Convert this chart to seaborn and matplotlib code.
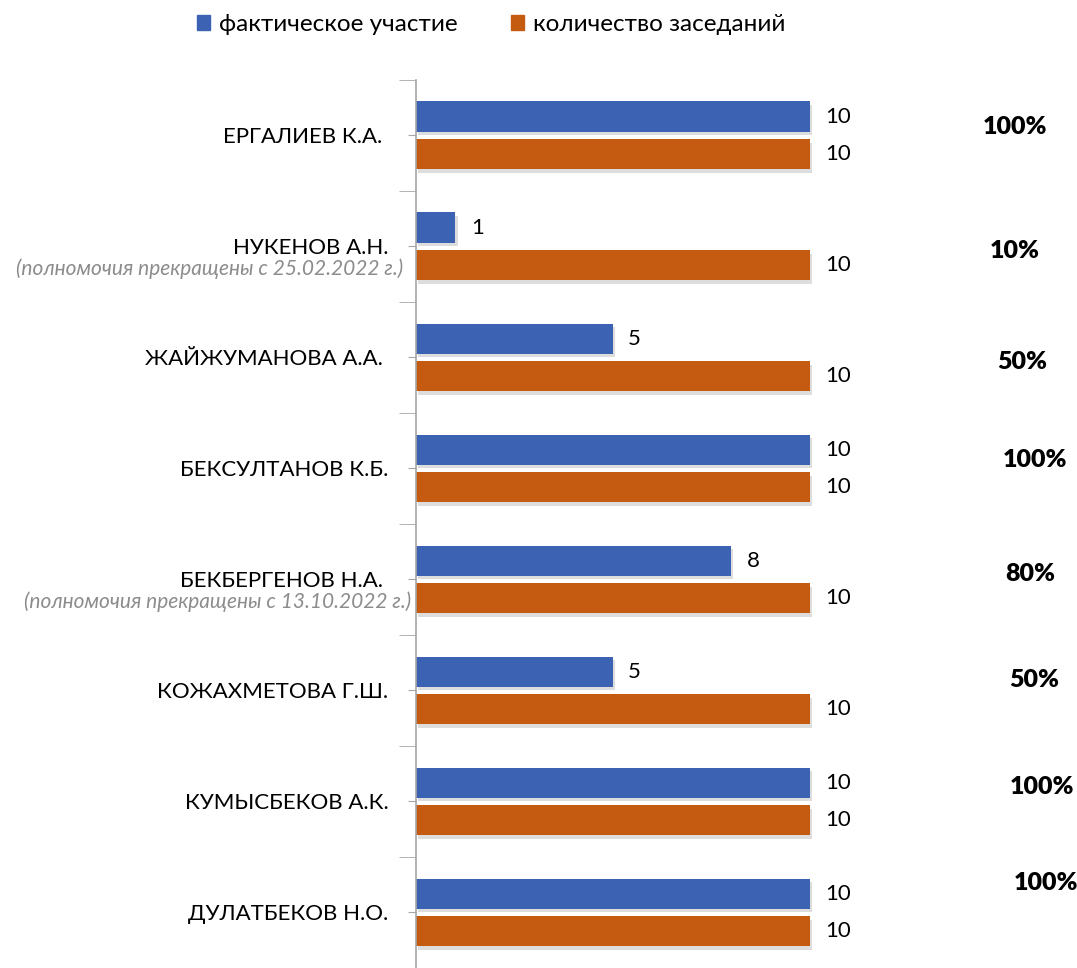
import matplotlib
matplotlib.use("Agg")
import matplotlib.pyplot as plt
import matplotlib.patheffects as pe
import numpy as np
import pandas as pd
import seaborn as sns

# -----------------------------
# Data
# -----------------------------
names = ["ЕРГАЛИЕВ К.А. ", "НУКЕНОВ А.Н.", "ЖАЙЖУМАНОВА А.А. ", "БЕКСУЛТАНОВ К.Б.",
         "БЕКБЕРГЕНОВ Н.А. ", "КОЖАХМЕТОВА Г.Ш.", "КУМЫСБЕКОВ А.К.", "ДУЛАТБЕКОВ Н.О."]
notes = ["", "(полномочия прекращены с 25.02.2022 г.)", "", "",
         "(полномочия прекращены с 13.10.2022 г.)", "", "", ""]
attended = [10, 1, 5, 10, 8, 5, 10, 10]
sessions = [10, 10, 10, 10, 10, 10, 10, 10]
series = ["фактическое участие", "количество заседаний"]
colors = ["#3b62b3", "#c55a11"]

# percent label placement (x in data units, y shift from category centre)
pct_x = [15.2, 15.2, 15.4, 15.7, 15.6, 15.7, 15.9, 16.0]
pct_dy = [-0.08, 0.04, 0.04, -0.08, -0.05, -0.09, -0.13, -0.27]

df = pd.DataFrame({
    "name": names * 2,
    "value": attended + sessions,
    "series": [series[0]] * len(names) + [series[1]] * len(names),
})

# -----------------------------
# Plot
# -----------------------------
sns.set_style("white")
plt.rcParams["font.family"] = ["Lato", "DejaVu Sans"]
plt.rcParams["text.color"] = "black"
plt.rcParams["ytick.labelcolor"] = "black"

fig = plt.figure(figsize=(10.77, 9.68), dpi=100)
ax = fig.add_axes([0.3863, 0.0, 0.6035, 0.9174])

sns.barplot(data=df, y="name", x="value", hue="series", orient="h",
            palette=colors, width=0.68, gap=0.2, ax=ax, legend=False,
            saturation=1)

shadow = [pe.SimplePatchShadow(offset=(1.5, -2.5), alpha=0.18, shadow_rgbFace="#444444"), pe.Normal()]
for bar in ax.patches:
    bar.set_path_effects(shadow)
    bar.set_edgecolor("none")

for cont in ax.containers:
    ax.bar_label(cont, padding=11, fontsize=16, color="black")

ax.set_xlim(0, 16.5)
ax.set_ylim(7.455, -0.5)
ax.set_xlabel("")
ax.set_ylabel("")
ax.set_xticks([])
for s in ["top", "right", "bottom"]:
    ax.spines[s].set_visible(False)
ax.spines["left"].set_color("#a6a6a6")
ax.spines["left"].set_linewidth(1.2)

ax.set_yticks(range(len(names)))
ax.set_yticklabels(names, fontsize=16, color="black")
ax.set_yticks(np.arange(-0.5, len(names), 1.0), minor=True)
ax.tick_params(axis="y", which="major", length=6, color="#a6a6a6", pad=14, left=True)
ax.tick_params(axis="y", which="minor", length=12, color="#a6a6a6", left=True)

# notes under some names
for i, note in enumerate(notes):
    if note:
        ax.text(-0.33 + 0.2 * (i > 2), i + 0.2, note, ha="right", va="center", fontsize=15,
                style="italic", color="#8c8c8c", transform=ax.transData, clip_on=False)

# percentage labels
for i, (a, t) in enumerate(zip(attended, sessions)):
    ax.text(pct_x[i], i + pct_dy[i], f"{round(a / t * 100)}%", ha="center", va="center",
            fontsize=18, fontweight="heavy", color="black", clip_on=False)

# legend
handles = [plt.Rectangle((0, 0), 1, 1, color=c) for c in colors]
fig.legend(handles, series, loc="upper center", bbox_to_anchor=(0.456, 1.008), ncol=2,
           frameon=False, fontsize=17.5, handlelength=0.55, handleheight=0.55,
           handletextpad=0.35, columnspacing=2.2)

fig.savefig("out.png", dpi=100)
